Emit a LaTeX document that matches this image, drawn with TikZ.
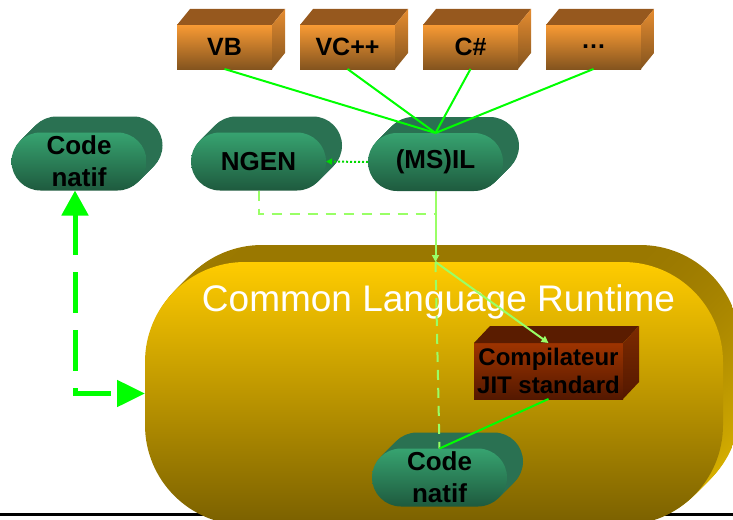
\documentclass[tikz,border=0pt]{standalone}
\usepackage{fontspec}
\setmainfont{Liberation Sans}
\usetikzlibrary{positioning, arrows.meta}

\definecolor{langtop}{HTML}{F89A34}
\definecolor{langbot}{HTML}{84541E}
\definecolor{langroof}{HTML}{96581E}
\definecolor{langside}{HTML}{E58C30}
\definecolor{pilltop}{HTML}{37A370}
\definecolor{pillbot}{HTML}{1E5A3E}
\definecolor{pillside}{HTML}{2A7152}
\definecolor{clrtop}{HTML}{FFCC00}
\definecolor{clrbot}{HTML}{7A6000}
\definecolor{clrback}{HTML}{9A7800}
\definecolor{clrside}{HTML}{E2BA00}
\definecolor{jittop}{HTML}{9E3400}
\definecolor{jitbot}{HTML}{541800}
\definecolor{jitroof}{HTML}{5A1C00}
\definecolor{jitside}{HTML}{7C2A00}
\definecolor{srcgreen}{HTML}{00FF00}
\definecolor{ilgreen}{HTML}{99FF66}

% shifted copies behind a shape
\newcommand\extrude[4]{%
  \foreach \d in {#3,...,1}
    \node[#1, #4, xshift=\d pt, yshift=\d pt] at (#2) {};
}
% roof and side of a box node
\newcommand\boxfaces[6]{%
  \fill[#4] (#1.north west) -- ++(#2,-#3) -- ([shift={(#2,-#3)}]#1.north east) -- (#1.north east) -- cycle;
  \shade[top color=#5, bottom color=#6] (#1.north east) -- ++(#2,-#3) -- ([shift={(#2,-#3)}]#1.south east) -- (#1.south east) -- cycle;
}

\begin{document}
\begin{tikzpicture}[x=1pt, y=-1pt,
    langshape/.style={rectangle, minimum width=95pt, minimum height=44pt, inner sep=0pt, outer sep=0pt},
    lang/.style={langshape, top color=langtop, bottom color=langbot, font=\bfseries\fontsize{25}{30}\selectfont},
    pillshape/.style={rectangle, rounded corners=29pt, minimum width=135pt, minimum height=58pt, inner sep=0pt, outer sep=0pt},
    pill/.style={pillshape, top color=pilltop, bottom color=pillbot, align=center, font=\bfseries\fontsize{26}{32}\selectfont},
    clrshape/.style={rectangle, rounded corners=100pt, minimum width=578pt, minimum height=263pt, inner sep=0pt, outer sep=0pt},
    clr/.style={clrshape, top color=clrtop, bottom color=clrbot},
    clrtext/.style={white, font=\fontsize{37}{44}\selectfont, anchor=base},
    jit/.style={rectangle, minimum width=149pt, minimum height=56pt, inner sep=0pt, outer sep=0pt, top color=jittop, bottom color=jitbot, align=center, font=\bfseries\fontsize{24}{28}\selectfont},
    srcline/.style={srcgreen, line width=2pt},
    ilarrow/.style={ilgreen, line width=2pt, -{Triangle[length=7pt,width=7pt]}},
    ildash/.style={ilgreen, line width=2pt, dash pattern=on 10pt off 8pt},
    ngenarrow/.style={srcgreen!85!black, line width=2pt, dash pattern=on 2pt off 2pt, -{Triangle[length=6pt,width=6pt]}},
    backarrow/.style={srcgreen, line width=5pt, dash pattern=on 41pt off 17pt, {Triangle[length=25pt,width=26pt]}-{Triangle[length=28pt,width=26pt]}}]
  \useasboundingbox (0,0) rectangle (733,519);
  \clip (0,0) rectangle (733,519);

  \draw[black, line width=3pt] (0,514) -- (733,514);

  % runtime
  \extrude{clrshape}{434,393.5}{17}{top color=clrback, bottom color=clrside}
  \node[clr] (clr) at (434,393.5) {};
  \node[clrtext] (clrname) at (438.5,311) {Common Language Runtime};

  \node[jit] (jit) at (548.5,371) {Compilateur\\JIT standard};
  \boxfaces{jit}{16}{17}{jitroof}{jitside}{jitbot}

  \extrude{pillshape}{439.5,477.5}{16}{fill=pillside}
  \node[pill] (natif2) at (439.5,477.5) {Code\\natif};

  % intermediate code
  \extrude{pillshape}{79,161.5}{16}{fill=pillside}
  \node[pill] (natif1) at (79,161.5) {Code\\natif};
  \extrude{pillshape}{258.5,161.5}{16}{fill=pillside}
  \node[pill] (ngen) at (258.5,161.5) {NGEN};
  \extrude{pillshape}{435.5,162}{16}{fill=pillside}
  \node[pill] (msil) at (435.5,162) {(MS)IL};

  % languages
  \node[lang] (vb) at (224.5,47) {VB};
  \node[lang, right=28pt of vb] (vcpp) {VC++};
  \node[lang, right=28pt of vcpp] (csharp) {C\#};
  \node[lang, right=28pt of csharp] (more) {\dots};
  \foreach \l in {vb,vcpp,csharp,more}{
    \boxfaces{\l}{13}{16}{langroof}{langside}{langbot}
  }

  \foreach \l in {vb,vcpp,csharp,more}
    \draw[srcline] (\l.south) -- (msil.north);
  \draw[ngenarrow] (msil.west) -- (ngen.east);

  \coordinate (entry) at (msil.south |- clr.north);
  \draw[ildash] (ngen.south) -- ++(0,23) -| (msil.south);
  \draw[ilarrow] (msil.south) -- (entry);
  \draw[ildash] (entry) -- (natif2.north);
  \draw[ilarrow] (entry) -- (jit.north);
  \draw[srcline] (jit.south) -- (natif2.north);

  \draw[backarrow] ([xshift=-4pt]natif1.south) |- (clr.west);
\end{tikzpicture}
\end{document}
